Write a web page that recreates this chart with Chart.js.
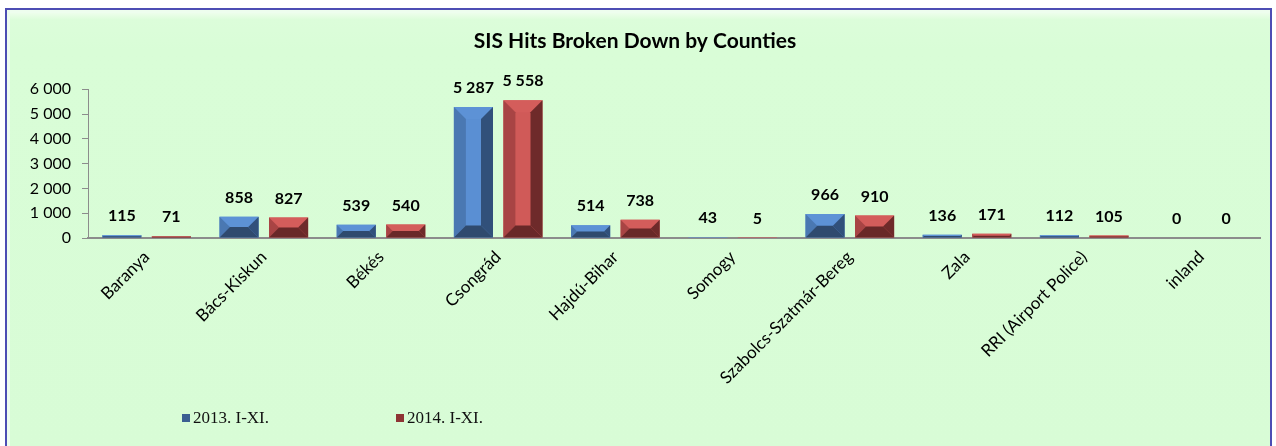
<!DOCTYPE html>
<html>
<head>
<meta charset="utf-8">
<script src="https://cdn.jsdelivr.net/npm/chart.js@4.4.1/dist/chart.umd.min.js"></script>
<style>
  html, body { margin: 0; padding: 0; background: #fff; }
  #wrap { position: relative; width: 1276px; height: 446px; overflow: hidden; }
  #frame {
    position: absolute; left: 5px; top: 8px; width: 1263px; height: 450px;
    border: 2px solid #4d4db4; border-bottom: none;
    background: linear-gradient(to bottom, #f4fff3 0px, #dcfdda 10px, #d9fdd7 40px, #d8fcd6 100%);
    box-shadow: inset 3px 3px 0 #eefeee;
  }
  #chart { position: absolute; left: 0; top: 0; }
  .legend { position: absolute; top: 408px; font: 17px "Liberation Serif", "Times New Roman", serif; color: #111; }
  .legend span { display: inline-block; width: 8px; height: 8px; margin-right: 3px; vertical-align: 1px; }
</style>
</head>
<body>
<div id="wrap">
  <div id="frame"></div>
  <canvas id="chart" width="1276" height="446"></canvas>
  <div class="legend" style="left:182px"><span style="background:#3b5f92"></span>2013. I-XI.</div>
  <div class="legend" style="left:396px"><span style="background:#8e3434"></span>2014. I-XI.</div>
</div>
<script>
const categories = ['Baranya', 'Bács-Kiskun', 'Békés', 'Csongrád', 'Hajdú-Bihar', 'Somogy',
                    'Szabolcs-Szatmár-Bereg', 'Zala', 'RRI (Airport Police)', 'inland'];
const hits2013 = [115, 858, 539, 5287, 514, 43, 966, 136, 112, 0];
const hits2014 = [71, 827, 540, 5558, 738, 5, 910, 171, 105, 0];
const seriesNames = ['2013. I-XI.', '2014. I-XI.'];
const yTicks = [0, 1000, 2000, 3000, 4000, 5000, 6000];

// face colours for the bevelled bars
const bevel = [
  { face: '#5a8fd3', top: '#5d92d6', left: '#4a78b2', right: '#31507a', bottom: '#2f4a6e' },
  { face: '#d05a58', top: '#d45d5b', left: '#a84444', right: '#6e2a2a', bottom: '#692828' }
];

const fmt = v => String(v).replace(/\B(?=(\d{3})+(?!\d))/g, ' ');

function poly(ctx, pts, color) {
  ctx.beginPath();
  ctx.moveTo(pts[0][0], pts[0][1]);
  for (let k = 1; k < pts.length; k++) ctx.lineTo(pts[k][0], pts[k][1]);
  ctx.closePath();
  ctx.fillStyle = color;
  ctx.fill();
}

const bevelBars = {
  id: 'bevelBars',
  afterDatasetsDraw(chart) {
    const ctx = chart.ctx;
    ctx.save();
    chart.data.datasets.forEach((ds, i) => {
      const pal = bevel[i];
      chart.getDatasetMeta(i).data.forEach((bar, j) => {
        const p = bar.getProps(['x', 'y', 'base', 'width'], true);
        const l = p.x - p.width / 2, r = p.x + p.width / 2;
        const t = Math.min(p.y, p.base), b = Math.max(p.y, p.base);
        const h = b - t;
        if (h >= 1) {
          const d = Math.min(12, h / 2, p.width / 2);
          poly(ctx, [[l, t], [r, t], [r - d, t + d], [l + d, t + d]], pal.top);
          poly(ctx, [[l, t], [l + d, t + d], [l + d, b - d], [l, b]], pal.left);
          poly(ctx, [[r, t], [r, b], [r - d, b - d], [r - d, t + d]], pal.right);
          poly(ctx, [[l, b], [l + d, b - d], [r - d, b - d], [r, b]], pal.bottom);
        }
        // value label above the bar
        ctx.fillStyle = '#000';
        ctx.font = 'bold 16px Lato';
        ctx.textAlign = 'center';
        ctx.textBaseline = 'middle';
        ctx.fillText(fmt(ds.data[j]), p.x, t - 19);
      });
    });
    ctx.restore();
  }
};

new Chart(document.getElementById('chart'), {
  type: 'bar',
  data: {
    labels: categories,
    datasets: [
      { label: seriesNames[0], data: hits2013, backgroundColor: bevel[0].face },
      { label: seriesNames[1], data: hits2014, backgroundColor: bevel[1].face }
    ]
  },
  options: {
    responsive: false,
    animation: false,
    categoryPercentage: 0.845,
    barPercentage: 0.79,
    layout: { padding: { top: 8, left: 10, right: 16, bottom: 58 } },
    plugins: {
      legend: { display: false },
      tooltip: { enabled: false },
      title: {
        display: true,
        text: 'SIS Hits Broken Down by Counties',
        color: '#000',
        font: { family: 'Lato', size: 21, weight: 'bold', lineHeight: 1.2 },
        padding: { top: 21, bottom: 35 }
      }
    },
    scales: {
      x: {
        grid: { display: false, drawTicks: false },
        border: { color: '#8c8c8c', width: 2 },
        ticks: {
          color: '#000',
          font: { family: 'Lato', size: 17 },
          maxRotation: 45, minRotation: 45,
          padding: 9
        },
        afterFit(scale) { scale.height = 150; }
      },
      y: {
        min: 0, max: 6000,
        afterBuildTicks(scale) { scale.ticks = yTicks.map(v => ({ value: v })); },
        grid: { color: 'transparent', tickColor: '#8c8c8c', tickLength: 6, tickWidth: 1 },
        border: { color: '#8c8c8c', width: 1 },
        ticks: {
          color: '#000',
          font: { family: 'Lato', size: 16 },
          padding: 11,
          callback: v => fmt(v)
        },
        afterFit(scale) { scale.width = 78; }
      }
    }
  },
  plugins: [bevelBars]
});
</script>
</body>
</html>
